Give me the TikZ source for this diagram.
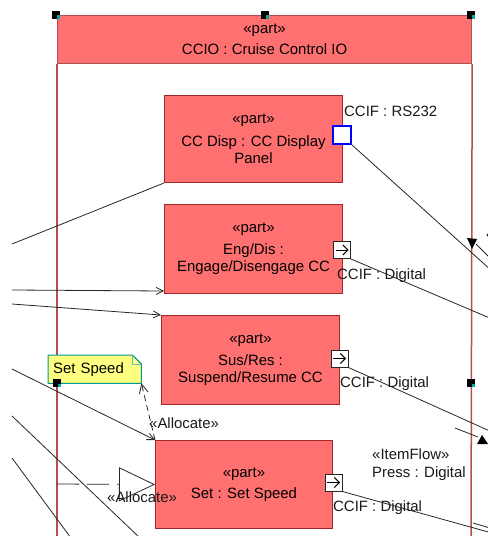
\documentclass[tikz,border=0pt]{standalone}
\usepackage{fontspec}
\setmainfont{Liberation Sans}
\usetikzlibrary{arrows.meta,backgrounds}
\definecolor{partfill}{RGB}{255,112,112}
\definecolor{partline}{RGB}{160,40,40}
\definecolor{frameline}{RGB}{176,80,80}
\definecolor{notefill}{RGB}{255,255,128}
\definecolor{noteline}{RGB}{0,150,150}
\definecolor{handlecyan}{RGB}{0,170,170}
\definecolor{portblue}{RGB}{0,0,255}
\begin{document}
\begin{tikzpicture}[x=1bp,y=-1bp,
  font=\fontsize{15}{17}\selectfont,
  partbox/.style={draw=partline, fill=partfill, line width=1bp, anchor=north west, align=center, inner sep=0pt},
  framehead/.style={draw=frameline, fill=partfill, line width=1.2bp, anchor=north west, align=center, inner sep=0pt},
  frameedge/.style={draw=frameline, line width=1.5bp},
  portbox/.style={draw=black!85, fill=white, line width=1bp, minimum size=17bp, inner sep=0pt},
  rsport/.style={draw=portblue, fill=white, line width=1.2bp, minimum size=18bp, inner sep=0pt},
  portarrow/.style={line width=1bp, -{Straight Barb[length=5bp,width=10bp]}},
  conn/.style={draw=black!85, line width=0.8bp},
  openarrow/.style={-{Straight Barb[length=7bp,width=7bp]}},
  lbl/.style={inner sep=0pt, text=black!90},
  handle/.style={fill=black, minimum size=8bp, inner sep=0pt,
    path picture={\fill[handlecyan] ([xshift=-3.5bp,yshift=3.5bp]path picture bounding box.south east) rectangle (path picture bounding box.south east);}},
  flowtip/.style={fill=black}
]
\useasboundingbox (0,0) rectangle (488,536);

% frame
\node[framehead, minimum width=414bp, minimum height=48bp] (frame) at (57,15)
  {«part»\\[4bp]CCIO : Cruise Control IO};
\coordinate (fbl) at (57,540);
\coordinate (fbr) at (471,540);

% parts
\node[partbox, minimum width=178bp, minimum height=87bp] (b1) at (164,95)
  {«part»\\[6bp]CC Disp : CC Display\\Panel};
\node[partbox, minimum width=178bp, minimum height=89bp] (b2) at (164,204)
  {«part»\\[5bp]Eng/Dis :\\Engage/Disengage CC};
\node[partbox, minimum width=178bp, minimum height=89bp] (b3) at (161,315)
  {«part»\\[5bp]Sus/Res :\\Suspend/Resume CC};
\node[partbox, minimum width=177bp, minimum height=88bp] (b4) at (155,440)
  {«part»\\[4bp]Set : Set Speed};

% ports
\node[rsport] (pd) at (342,135) {};
\node[portbox] (pe) at (342,250) {};
\node[portbox] (ps) at (339.5,358.5) {};
\node[portbox] (pt) at (333.5,482.5) {};
\draw[portarrow] ([xshift=2.5bp]pe.west) -- ([xshift=-2.5bp]pe.east);
\draw[portarrow] ([xshift=2.5bp]ps.west) -- ([xshift=-2.5bp]ps.east);
\draw[portarrow] ([xshift=2.5bp]pt.west) -- ([xshift=-2.5bp]pt.east);

% labels
\node[lbl, anchor=west] (lrs) at (344,111) {CCIF : RS232};
\node[lbl, anchor=west] (lde) at (337,276) {CCIF : Digital};
\node[lbl, anchor=west] (lds) at (340,384) {CCIF : Digital};
\node[lbl, anchor=west] (ldt) at (333,508) {CCIF : Digital};
\node[lbl, anchor=west, align=left, font=\fontsize{15}{18}\selectfont] (iflow) at (372,465) {«ItemFlow»\\Press : Digital};
\node[lbl, anchor=west] (iflow2) at (486,234) {«ItemFlow»};
\node[lbl, anchor=west] (al1) at (149,423) {«Allocate»};

% note
\node[anchor=north west, inner xsep=5bp, inner ysep=0pt, text width=83bp, minimum height=28bp, align=left] (note) at (48,355) {Set Speed};
\begin{scope}[on background layer]
  \draw[frameedge] (frame.south west) -- (fbl);
  \draw[frameedge] (frame.south east) -- (fbr);
  \filldraw[fill=notefill, draw=noteline, line width=1bp]
    (note.north west) -- ([xshift=-9bp]note.north east) -- ([yshift=-9bp]note.north east)
    -- (note.south east) -- (note.south west) -- cycle;
  \draw[draw=noteline!60, line width=0.8bp]
    ([xshift=-9bp]note.north east) -- ([xshift=-9bp,yshift=-9bp]note.north east) -- ([yshift=-9bp]note.north east);
\end{scope}

% left connectors
\coordinate (l1) at (12,244);
\coordinate (l2) at (12,290);
\coordinate (l3) at (12,304);
\coordinate (l4) at (12,369);
\coordinate (l5) at (12,416);
\coordinate (l5e) at (140,538);
\coordinate (l6) at (12,458);
\coordinate (l6e) at (71,538);
\coordinate (fl) at (57,484);
\draw[conn] (l1) -- (b1.south west);
\draw[conn, openarrow] (l2) -- ([yshift=3bp]b2.south west);
\draw[conn, openarrow] (l3) -- (b3.north west);
\draw[conn, openarrow] (l4) -- (b4.north west);
\draw[conn] (l5) -- (l5e);
\draw[conn] (l6) -- (l6e);
\draw[conn, dash pattern=on 6bp off 4bp, -{Straight Barb[length=9bp,width=9bp]}] (b4.north west) -- (note.south east);
\draw[conn, dash pattern=on 22bp off 8bp, -{Triangle[open,length=36bp,width=34bp]}] (fl) -- (b4.west);
\node[lbl, anchor=west] (al2) at (107,497) {«Allocate»};

% right connectors
\coordinate (r1) at (492,271);
\coordinate (r2) at (492,319);
\coordinate (r3) at (492,432);
\coordinate (r4) at (492,533);
\draw[conn] (pd.south east) -- (r1);
\draw[conn] (pe.south east) -- (r2);
\draw[conn] (ps.south east) -- (r3);
\draw[conn] (pt.south east) -- (r4);
\coordinate (sa1) at (490,258);
\coordinate (sa2) at (476,244);
\coordinate (sb1) at (455,428);
\coordinate (sb2) at (478,437);
\coordinate (sc1) at (473,523);
\coordinate (sc2) at (490,528);
\draw[conn] (sa1) -- (sa2);
\draw[conn] (sb1) -- (sb2);
\draw[conn] (sc1) -- (sc2);
\fill[flowtip] (467,238) -- (477,239) -- (472,249) -- cycle;
\fill[flowtip] (477,444) -- (488,444) -- (482,435) -- cycle;

% handles
\node[handle] (h1) at (56,15) {};
\node[handle] (h2) at (265,15) {};
\node[handle] (h3) at (471,15) {};
\node[handle] (h4) at (57,383) {};
\node[handle] (h5) at (471,383) {};
\end{tikzpicture}
\end{document}
